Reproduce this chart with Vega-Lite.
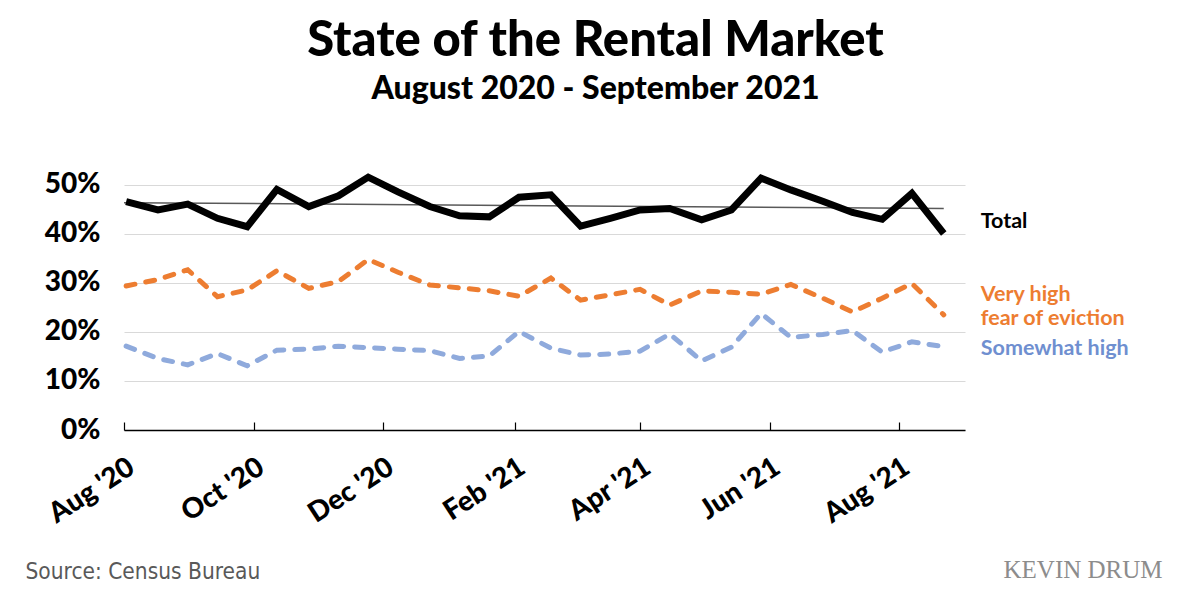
{
  "$schema": "https://vega.github.io/schema/vega-lite/v6.json",
  "autosize": "none",
  "width": 841,
  "height": 270,
  "padding": {"left": 124, "top": 160, "right": 235, "bottom": 163},
  "background": "white",
  "config": {"view": {"stroke": null}},
  "title": {
    "text": "State of the Rental Market",
    "subtitle": "August 2020 - September 2021",
    "anchor": "middle",
    "dx": 51,
    "offset": 55,
    "font": "Lato",
    "fontSize": 49,
    "fontWeight": 900,
    "color": "black",
    "subtitleFont": "Lato",
    "subtitleFontSize": 32,
    "subtitleFontWeight": 900,
    "subtitleColor": "black",
    "subtitlePadding": 8
  },
  "datasets": {
    "pulse": [
      {"date": "2020-08-02", "series": "Total", "value": 0.466},
      {"date": "2020-08-17", "series": "Total", "value": 0.449},
      {"date": "2020-08-31", "series": "Total", "value": 0.461},
      {"date": "2020-09-14", "series": "Total", "value": 0.432},
      {"date": "2020-09-28", "series": "Total", "value": 0.415},
      {"date": "2020-10-12", "series": "Total", "value": 0.491},
      {"date": "2020-10-27", "series": "Total", "value": 0.456},
      {"date": "2020-11-10", "series": "Total", "value": 0.478},
      {"date": "2020-11-24", "series": "Total", "value": 0.516},
      {"date": "2020-12-08", "series": "Total", "value": 0.486},
      {"date": "2020-12-23", "series": "Total", "value": 0.456},
      {"date": "2021-01-06", "series": "Total", "value": 0.437},
      {"date": "2021-01-20", "series": "Total", "value": 0.435},
      {"date": "2021-02-03", "series": "Total", "value": 0.475},
      {"date": "2021-02-18", "series": "Total", "value": 0.480},
      {"date": "2021-03-04", "series": "Total", "value": 0.416},
      {"date": "2021-03-18", "series": "Total", "value": 0.432},
      {"date": "2021-04-01", "series": "Total", "value": 0.449},
      {"date": "2021-04-15", "series": "Total", "value": 0.452},
      {"date": "2021-04-30", "series": "Total", "value": 0.429},
      {"date": "2021-05-14", "series": "Total", "value": 0.449},
      {"date": "2021-05-28", "series": "Total", "value": 0.514},
      {"date": "2021-06-11", "series": "Total", "value": 0.490},
      {"date": "2021-06-26", "series": "Total", "value": 0.467},
      {"date": "2021-07-10", "series": "Total", "value": 0.444},
      {"date": "2021-07-24", "series": "Total", "value": 0.430},
      {"date": "2021-08-07", "series": "Total", "value": 0.483},
      {"date": "2021-08-22", "series": "Total", "value": 0.401},
      {"date": "2020-08-02", "series": "Very high", "value": 0.294},
      {"date": "2020-08-17", "series": "Very high", "value": 0.307},
      {"date": "2020-08-31", "series": "Very high", "value": 0.327},
      {"date": "2020-09-14", "series": "Very high", "value": 0.272},
      {"date": "2020-09-28", "series": "Very high", "value": 0.286},
      {"date": "2020-10-12", "series": "Very high", "value": 0.325},
      {"date": "2020-10-27", "series": "Very high", "value": 0.289},
      {"date": "2020-11-10", "series": "Very high", "value": 0.303},
      {"date": "2020-11-24", "series": "Very high", "value": 0.348},
      {"date": "2020-12-08", "series": "Very high", "value": 0.322},
      {"date": "2020-12-23", "series": "Very high", "value": 0.296},
      {"date": "2021-01-06", "series": "Very high", "value": 0.290},
      {"date": "2021-01-20", "series": "Very high", "value": 0.284},
      {"date": "2021-02-03", "series": "Very high", "value": 0.273},
      {"date": "2021-02-18", "series": "Very high", "value": 0.310},
      {"date": "2021-03-04", "series": "Very high", "value": 0.265},
      {"date": "2021-03-18", "series": "Very high", "value": 0.276},
      {"date": "2021-04-01", "series": "Very high", "value": 0.287},
      {"date": "2021-04-15", "series": "Very high", "value": 0.255},
      {"date": "2021-04-30", "series": "Very high", "value": 0.284},
      {"date": "2021-05-14", "series": "Very high", "value": 0.281},
      {"date": "2021-05-28", "series": "Very high", "value": 0.277},
      {"date": "2021-06-11", "series": "Very high", "value": 0.297},
      {"date": "2021-06-26", "series": "Very high", "value": 0.269},
      {"date": "2021-07-10", "series": "Very high", "value": 0.241},
      {"date": "2021-07-24", "series": "Very high", "value": 0.269},
      {"date": "2021-08-07", "series": "Very high", "value": 0.299},
      {"date": "2021-08-22", "series": "Very high", "value": 0.235},
      {"date": "2020-08-02", "series": "Somewhat high", "value": 0.171},
      {"date": "2020-08-17", "series": "Somewhat high", "value": 0.146},
      {"date": "2020-08-31", "series": "Somewhat high", "value": 0.133},
      {"date": "2020-09-14", "series": "Somewhat high", "value": 0.156},
      {"date": "2020-09-28", "series": "Somewhat high", "value": 0.131},
      {"date": "2020-10-12", "series": "Somewhat high", "value": 0.163},
      {"date": "2020-10-27", "series": "Somewhat high", "value": 0.165},
      {"date": "2020-11-10", "series": "Somewhat high", "value": 0.171},
      {"date": "2020-11-24", "series": "Somewhat high", "value": 0.168},
      {"date": "2020-12-08", "series": "Somewhat high", "value": 0.165},
      {"date": "2020-12-23", "series": "Somewhat high", "value": 0.162},
      {"date": "2021-01-06", "series": "Somewhat high", "value": 0.146},
      {"date": "2021-01-20", "series": "Somewhat high", "value": 0.151},
      {"date": "2021-02-03", "series": "Somewhat high", "value": 0.201},
      {"date": "2021-02-18", "series": "Somewhat high", "value": 0.167},
      {"date": "2021-03-04", "series": "Somewhat high", "value": 0.153},
      {"date": "2021-03-18", "series": "Somewhat high", "value": 0.155},
      {"date": "2021-04-01", "series": "Somewhat high", "value": 0.161},
      {"date": "2021-04-15", "series": "Somewhat high", "value": 0.196},
      {"date": "2021-04-30", "series": "Somewhat high", "value": 0.141},
      {"date": "2021-05-14", "series": "Somewhat high", "value": 0.169},
      {"date": "2021-05-28", "series": "Somewhat high", "value": 0.238},
      {"date": "2021-06-11", "series": "Somewhat high", "value": 0.189},
      {"date": "2021-06-26", "series": "Somewhat high", "value": 0.195},
      {"date": "2021-07-10", "series": "Somewhat high", "value": 0.203},
      {"date": "2021-07-24", "series": "Somewhat high", "value": 0.159},
      {"date": "2021-08-07", "series": "Somewhat high", "value": 0.180},
      {"date": "2021-08-22", "series": "Somewhat high", "value": 0.170}
    ],
    "trend": [
      {"date": "2020-08-01", "value": 0.464},
      {"date": "2021-08-22", "value": 0.452}
    ],
    "labels": [
      {"date": "2021-08-22", "series": "Total", "value": 0.401, "label": "Total"},
      {"date": "2021-08-22", "series": "Very high", "value": 0.235, "label": "Very high\nfear of eviction"},
      {"date": "2021-08-22", "series": "Somewhat high", "value": 0.170, "label": "Somewhat high"}
    ]
  },
  "encoding": {
    "x": {
      "field": "date",
      "type": "temporal",
      "scale": {
        "type": "utc",
        "domain": [
          {"year": 2020, "month": 8, "date": 1, "utc": true},
          {"year": 2021, "month": 9, "date": 1, "utc": true}
        ]
      },
      "axis": {
        "values": [
          {"year": 2020, "month": 8, "date": 1, "utc": true},
          {"year": 2020, "month": 10, "date": 1, "utc": true},
          {"year": 2020, "month": 12, "date": 1, "utc": true},
          {"year": 2021, "month": 2, "date": 1, "utc": true},
          {"year": 2021, "month": 4, "date": 1, "utc": true},
          {"year": 2021, "month": 6, "date": 1, "utc": true},
          {"year": 2021, "month": 8, "date": 1, "utc": true}
        ],
        "format": "%b '%y",
        "grid": false,
        "domainColor": "black",
        "domainWidth": 1.5,
        "tickColor": "black",
        "tickWidth": 1.2,
        "tickSize": -8,
        "labelAngle": -33,
        "labelAlign": "right",
        "labelBaseline": "top",
        "labelPadding": 31,
        "labelFont": "Lato",
        "labelFontWeight": 900,
        "labelFontSize": 28,
        "labelColor": "black",
        "labelOverlap": false,
        "title": "Source: Census Bureau",
        "titleX": -99,
        "titleY": 148,
        "titleAnchor": "start",
        "titleAlign": "left",
        "titleBaseline": "alphabetic",
        "titleFont": "DejaVu Sans Condensed, DejaVu Sans",
        "titleFontSize": 22.5,
        "titleFontWeight": "normal",
        "titleColor": "#595959"
      }
    },
    "y": {
      "field": "value",
      "type": "quantitative",
      "scale": {"domain": [0, 0.551], "nice": false, "zero": true},
      "axis": {
        "values": [0, 0.1, 0.2, 0.3, 0.4, 0.5],
        "format": ".0%",
        "domain": false,
        "ticks": false,
        "grid": true,
        "gridColor": "#d9d9d9",
        "gridWidth": 1,
        "labelFont": "Lato",
        "labelFontWeight": 900,
        "labelFontSize": 28,
        "labelPadding": 24,
        "labelColor": "black",
        "title": "KEVIN DRUM",
        "titleAngle": 0,
        "titleX": 879,
        "titleY": 417,
        "titleAlign": "left",
        "titleBaseline": "alphabetic",
        "titleFont": "Liberation Serif",
        "titleFontSize": 25,
        "titleFontWeight": "normal",
        "titleColor": "#8c8c8c"
      }
    }
  },
  "layer": [
    {
      "data": {"name": "pulse"},
      "transform": [{"filter": "datum.series === 'Somewhat high'"}],
      "mark": {"type": "line", "color": "#8faadc", "strokeWidth": 5, "strokeDash": [9, 11], "strokeCap": "round"}
    },
    {
      "data": {"name": "pulse"},
      "transform": [{"filter": "datum.series === 'Very high'"}],
      "mark": {"type": "line", "color": "#ed7d31", "strokeWidth": 5, "strokeDash": [9, 11], "strokeCap": "round"}
    },
    {
      "data": {"name": "trend"},
      "mark": {"type": "line", "color": "#595959", "strokeWidth": 1.5}
    },
    {
      "data": {"name": "pulse"},
      "transform": [{"filter": "datum.series === 'Total'"}],
      "mark": {"type": "line", "color": "black", "strokeWidth": 7}
    },
    {
      "data": {"name": "labels"},
      "transform": [{"filter": "datum.series === 'Total'"}],
      "mark": {"type": "text", "align": "left", "baseline": "alphabetic", "dx": 37, "dy": -6, "font": "Lato", "fontWeight": "bold", "fontSize": 21.5, "color": "black"},
      "encoding": {"text": {"field": "label"}}
    },
    {
      "data": {"name": "labels"},
      "transform": [{"filter": "datum.series === 'Very high'"}],
      "mark": {"type": "text", "align": "left", "baseline": "alphabetic", "dx": 37, "dy": -14, "lineBreak": "\n", "lineHeight": 24.5, "font": "Lato", "fontWeight": "bold", "fontSize": 21.5, "color": "#ed7d31"},
      "encoding": {"text": {"field": "label"}}
    },
    {
      "data": {"name": "labels"},
      "transform": [{"filter": "datum.series === 'Somewhat high'"}],
      "mark": {"type": "text", "align": "left", "baseline": "alphabetic", "dx": 37, "dy": 8, "font": "Lato", "fontWeight": "bold", "fontSize": 21.5, "color": "#6f8fd0"},
      "encoding": {"text": {"field": "label"}}
    }
  ]
}
